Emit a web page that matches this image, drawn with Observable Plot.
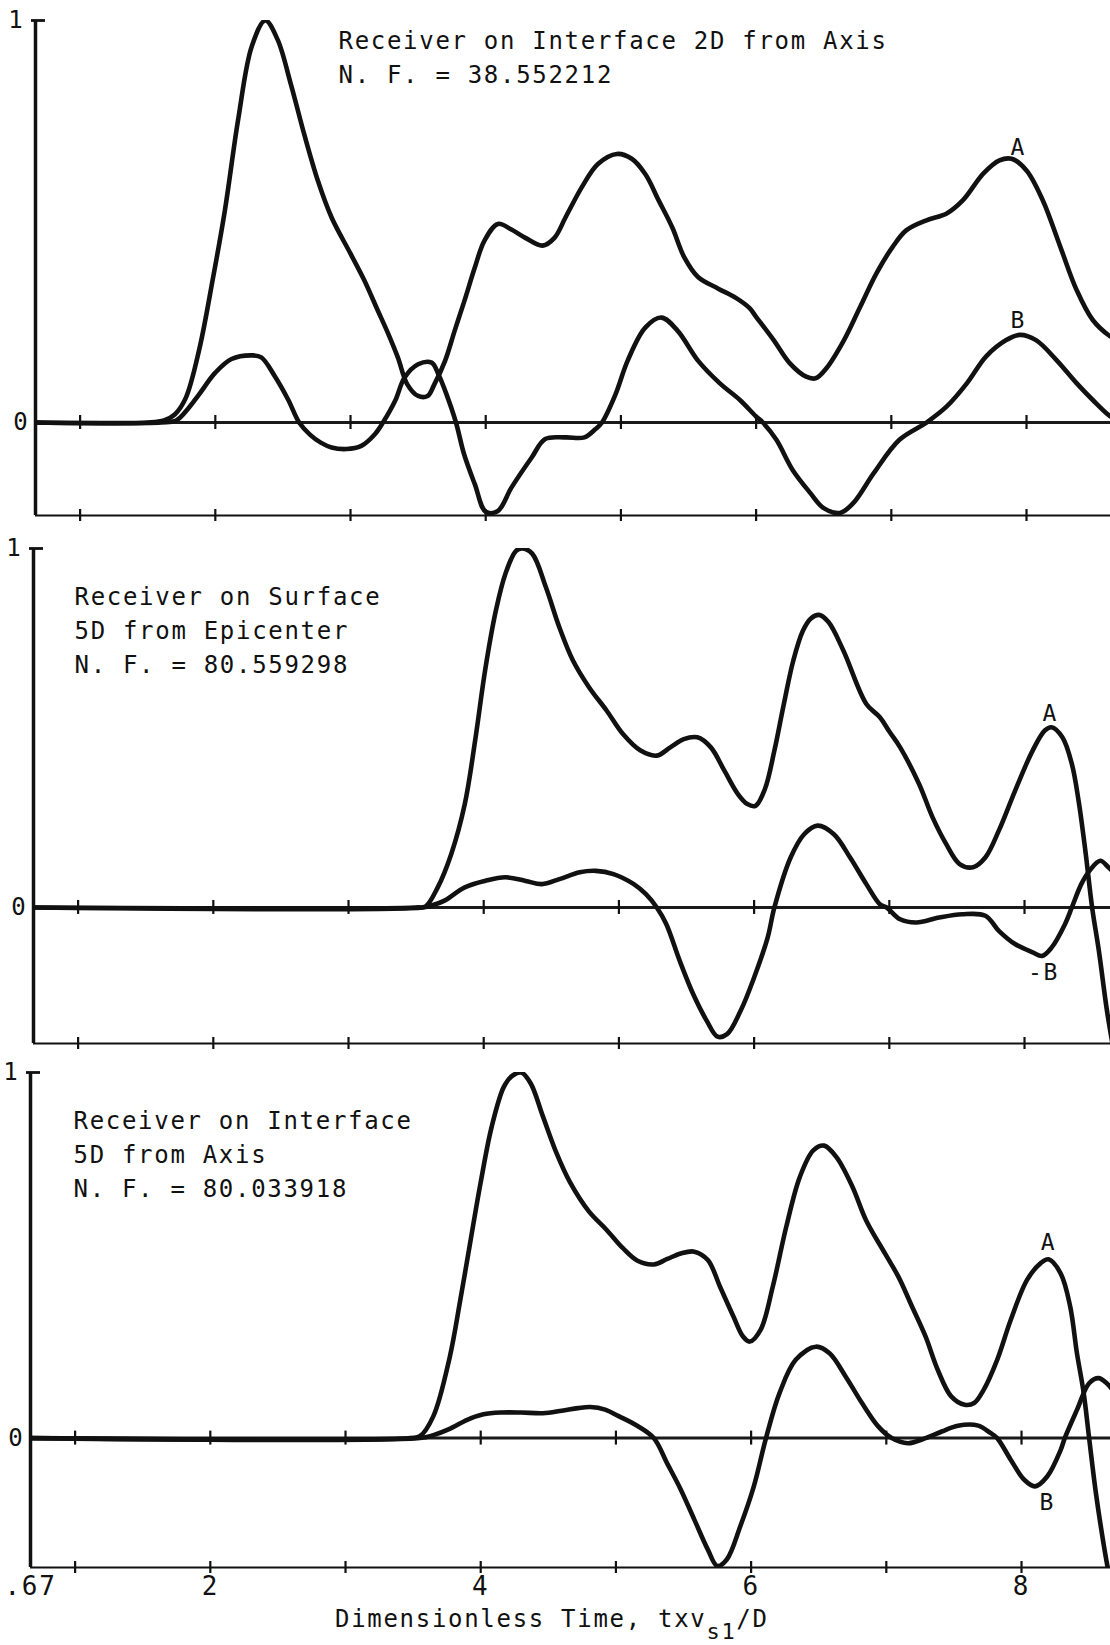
<!DOCTYPE html>
<html>
<head>
<meta charset="utf-8">
<script src="https://cdn.jsdelivr.net/npm/d3@7"></script>
<script src="https://cdn.jsdelivr.net/npm/@observablehq/plot@0.6"></script>
<style>
  html, body { margin: 0; padding: 0; background: #fff; }
  #chart { position: relative; width: 1110px; height: 1645px; overflow: hidden; background: #fff; }
  #chart svg { display: block; }
  #chart svg text { letter-spacing: 1.7px; }
  #xtitle {
    position: absolute; left: 335px; top: 1607px;
    font-family: "DejaVu Sans Mono", monospace; font-size: 24px; line-height: 24px;
    letter-spacing: 1.7px; white-space: nowrap; color: #111;
  }
  #xtitle .sub { position: relative; top: 12px; font-size: 22px; }
</style>
</head>
<body>
<div id="chart"></div>
<script>
// Dimensionless time ticks and labels
const timeTicks = [1, 2, 3, 4, 5, 6, 7, 8];
const timeLabels = [0.67, 2, 4, 6, 8];

// Panel 1: receiver on interface, 2D from axis  ([time, amplitude])
const ifaceNearA = [
  [0.67,0],[1.5,0],[1.62,0.005],[1.7,0.02],[1.78,0.06],[1.88,0.18],[1.98,0.354],[2.07,0.526],
  [2.17,0.756],[2.27,0.936],[2.37,1.0],[2.46,0.953],[2.56,0.84],[2.66,0.714],[2.76,0.6],[2.86,0.51],
  [3.0,0.42],[3.1,0.355],[3.2,0.28],[3.28,0.22],[3.35,0.162],[3.42,0.095],[3.5,0.066],[3.57,0.066],
  [3.62,0.095],[3.7,0.154],[3.77,0.228],[3.84,0.3],[3.92,0.386],[3.99,0.452],[4.09,0.494],[4.19,0.48],
  [4.29,0.46],[4.42,0.44],[4.51,0.46],[4.59,0.51],[4.71,0.585],[4.83,0.643],[4.97,0.668],[5.08,0.656],
  [5.18,0.618],[5.28,0.552],[5.38,0.485],[5.47,0.41],[5.57,0.362],[5.72,0.333],[5.85,0.31],[5.95,0.285],
  [6.0,0.263],[6.13,0.205],[6.25,0.147],[6.37,0.114],[6.44,0.11],[6.52,0.135],[6.65,0.205],[6.77,0.288],
  [6.89,0.371],[7.01,0.437],[7.11,0.478],[7.26,0.503],[7.41,0.52],[7.53,0.553],[7.68,0.619],[7.8,0.652],
  [7.89,0.656],[8.0,0.627],[8.12,0.553],[8.25,0.437],[8.37,0.33],[8.49,0.255],[8.62,0.214],[8.7,0.2]
];
const ifaceNearB = [
  [0.67,0],[1.6,0],[1.71,0.005],[1.8,0.035],[1.88,0.07],[2.0,0.124],[2.12,0.158],[2.27,0.167],
  [2.34,0.162],[2.44,0.115],[2.54,0.056],[2.62,0],[2.7,-0.03],[2.78,-0.05],[2.86,-0.062],[2.97,-0.066],
  [3.08,-0.058],[3.18,-0.029],[3.24,0],[3.33,0.054],[3.4,0.112],[3.5,0.145],[3.6,0.149],[3.65,0.12],
  [3.71,0.07],[3.78,0],[3.84,-0.079],[3.92,-0.154],[4.0,-0.222],[4.09,-0.22],[4.19,-0.162],[4.34,-0.087],
  [4.44,-0.041],[4.59,-0.037],[4.73,-0.037],[4.81,-0.017],[4.86,0],[4.96,0.07],[5.05,0.154],[5.18,0.236],
  [5.3,0.261],[5.42,0.228],[5.57,0.154],[5.73,0.098],[5.88,0.056],[6.0,0.015],[6.05,0],[6.15,-0.043],
  [6.27,-0.118],[6.4,-0.175],[6.5,-0.213],[6.62,-0.225],[6.72,-0.2],[6.87,-0.126],[7.06,-0.043],[7.26,0],
  [7.41,0.04],[7.56,0.098],[7.7,0.164],[7.85,0.205],[7.95,0.218],[8.07,0.205],[8.22,0.156],[8.37,0.098],
  [8.49,0.056],[8.62,0.015],[8.7,0]
];

// Panel 2: receiver on surface, 5D from epicenter
const surfaceA = [
  [0.67,0],[3.5,0],[3.57,0.003],[3.66,0.056],[3.76,0.149],[3.86,0.288],[3.94,0.474],[4.01,0.66],
  [4.09,0.827],[4.16,0.929],[4.24,0.994],[4.29,1.0],[4.36,0.985],[4.46,0.892],[4.56,0.78],[4.66,0.688],
  [4.78,0.613],[4.91,0.548],[5.03,0.483],[5.16,0.437],[5.28,0.423],[5.38,0.446],[5.48,0.469],[5.58,0.474],
  [5.68,0.446],[5.78,0.381],[5.88,0.316],[5.95,0.288],[6.01,0.283],[6.08,0.33],[6.15,0.437],[6.22,0.567],
  [6.29,0.688],[6.36,0.77],[6.42,0.805],[6.48,0.815],[6.55,0.795],[6.66,0.716],[6.83,0.567],[6.93,0.53],
  [7.0,0.49],[7.08,0.446],[7.22,0.344],[7.32,0.251],[7.42,0.177],[7.52,0.121],[7.62,0.112],[7.71,0.139],
  [7.81,0.214],[7.93,0.325],[8.06,0.437],[8.15,0.493],[8.2,0.502],[8.28,0.474],[8.35,0.4],[8.4,0.297],
  [8.45,0.158],[8.5,0],[8.55,-0.121],[8.61,-0.288],[8.66,-0.4]
];
const surfaceNegB = [
  [0.67,0],[3.55,0],[3.62,0.006],[3.71,0.019],[3.86,0.056],[4.01,0.074],[4.16,0.084],[4.31,0.074],
  [4.43,0.065],[4.56,0.079],[4.71,0.098],[4.83,0.102],[4.96,0.093],[5.11,0.065],[5.2,0.037],[5.28,0],
  [5.35,-0.046],[5.45,-0.149],[5.55,-0.242],[5.65,-0.316],[5.73,-0.36],[5.8,-0.353],[5.9,-0.288],[6.0,-0.195],
  [6.1,-0.084],[6.15,0],[6.27,0.139],[6.37,0.204],[6.47,0.228],[6.59,0.204],[6.71,0.139],[6.83,0.065],
  [6.93,0.009],[6.98,0],[7.08,-0.033],[7.2,-0.042],[7.37,-0.028],[7.54,-0.019],[7.71,-0.023],[7.81,-0.065],
  [7.93,-0.102],[8.06,-0.125],[8.13,-0.135],[8.2,-0.112],[8.3,-0.046],[8.35,0],[8.42,0.065],[8.48,0.102],
  [8.56,0.13],[8.62,0.112],[8.68,0.09]
];

// Panel 3: receiver on interface, 5D from axis
const ifaceFarA = [
  [0.67,0],[3.48,0],[3.55,0.005],[3.65,0.06],[3.77,0.22],[3.85,0.38],[3.92,0.53],[4.0,0.7],
  [4.08,0.85],[4.17,0.96],[4.23,0.99],[4.3,1.0],[4.37,0.97],[4.46,0.88],[4.56,0.78],[4.66,0.7],
  [4.8,0.62],[4.93,0.57],[5.05,0.52],[5.16,0.485],[5.28,0.475],[5.38,0.49],[5.48,0.505],[5.58,0.51],
  [5.68,0.487],[5.77,0.414],[5.87,0.332],[5.94,0.278],[5.99,0.264],[6.07,0.296],[6.16,0.414],[6.26,0.578],
  [6.36,0.714],[6.46,0.787],[6.54,0.8],[6.63,0.769],[6.75,0.687],[6.85,0.596],[6.99,0.505],[7.09,0.441],
  [7.19,0.36],[7.29,0.278],[7.38,0.187],[7.48,0.114],[7.58,0.091],[7.65,0.096],[7.72,0.132],[7.82,0.214],
  [7.92,0.323],[8.04,0.432],[8.14,0.478],[8.2,0.489],[8.29,0.45],[8.36,0.36],[8.41,0.232],[8.46,0.123],
  [8.5,0],[8.55,-0.15],[8.61,-0.296],[8.66,-0.4]
];
const ifaceFarB = [
  [0.67,0],[3.55,0],[3.65,0.008],[3.77,0.025],[3.9,0.05],[4.02,0.065],[4.15,0.07],[4.3,0.07],
  [4.46,0.068],[4.6,0.075],[4.72,0.082],[4.81,0.085],[4.92,0.078],[5.02,0.06],[5.16,0.033],[5.28,0],
  [5.38,-0.07],[5.48,-0.141],[5.58,-0.223],[5.68,-0.305],[5.75,-0.35],[5.82,-0.332],[5.92,-0.241],[6.02,-0.132],
  [6.11,0],[6.21,0.123],[6.33,0.214],[6.48,0.25],[6.58,0.232],[6.7,0.168],[6.82,0.096],[6.94,0.032],
  [7.04,0],[7.16,-0.014],[7.29,0],[7.41,0.018],[7.53,0.034],[7.68,0.034],[7.77,0.014],[7.82,0],
  [7.92,-0.059],[8.02,-0.114],[8.1,-0.132],[8.19,-0.105],[8.29,-0.032],[8.32,0],[8.41,0.077],[8.5,0.15],
  [8.57,0.164],[8.63,0.15],[8.7,0.12]
];

const W = 1110;
const PX_PER_T = 135.2;          // pixels per unit of dimensionless time
const T0 = 0.67;                 // time at the vertical axis
const ink = "#111";
const FONT = "DejaVu Sans Mono";

function panel(cfg) {
  const {h, mt, mb, ml, ymin, curveA, curveB, note, noteDx, noteDy, tags, labelled} = cfg;
  const t1 = T0 + (W - ml) / PX_PER_T;
  const pxY = (h - mt - mb) / (1 - ymin);
  const zt = 7 / pxY, bt = 6 / pxY;
  const marks = [
    // zero line with its ticks
    Plot.ruleY([0], {stroke: "#1a1a1a", strokeWidth: 3}),
    Plot.ruleX(timeTicks, {y1: -zt, y2: zt, stroke: ink, strokeWidth: 2.2}),
    // bottom axis line with ticks
    Plot.ruleY([ymin], {stroke: ink, strokeWidth: 2.2}),
    Plot.ruleX(timeTicks, {y1: ymin - bt, y2: ymin + bt, stroke: ink, strokeWidth: 2.2}),
    // vertical axis with the cap at 1
    Plot.ruleX([T0], {y1: ymin, y2: 1, stroke: ink, strokeWidth: 3.5}),
    Plot.ruleY([1], {x1: T0 - 4 / PX_PER_T, x2: T0 + 10 / PX_PER_T, stroke: ink, strokeWidth: 2.8}),
    Plot.text(["1"], {x: T0, y: 1, dx: -11, textAnchor: "end", lineAnchor: "middle",
      fontSize: 24, fontFamily: FONT, fill: ink}),
    Plot.text(["0"], {x: T0, y: 0, dx: -6, textAnchor: "end", lineAnchor: "middle",
      fontSize: 24, fontFamily: FONT, fill: ink}),
    // the two response traces
    Plot.line(curveA, {x: d => d[0], y: d => d[1], curve: "catmull-rom",
      stroke: ink, strokeWidth: 4.6, strokeLinejoin: "round", clip: true}),
    Plot.line(curveB, {x: d => d[0], y: d => d[1], curve: "catmull-rom",
      stroke: ink, strokeWidth: 4.6, strokeLinejoin: "round", clip: true}),
    // trace tags
    Plot.text(tags, {x: d => d[0], y: d => d[1], text: d => d[2], textAnchor: "middle",
      lineAnchor: "middle", fontSize: 23, fontFamily: FONT, fill: ink}),
    // receiver description
    Plot.text([note], {frameAnchor: "top-left", dx: noteDx, dy: noteDy, lineAnchor: "top",
      textAnchor: "start", fontSize: 24, lineHeight: 1.42, fontFamily: FONT, fill: ink})
  ];
  if (labelled) {
    marks.push(Plot.text(timeLabels, {x: d => d, y: ymin, dy: 9, lineAnchor: "top",
      text: d => d === 0.67 ? ".67" : String(d), textAnchor: "middle",
      fontSize: 26, fontFamily: FONT, fill: ink}));
  }
  return Plot.plot({
    width: W, height: h,
    marginTop: mt, marginBottom: mb, marginLeft: ml, marginRight: 0,
    x: {domain: [T0, t1], axis: null},
    y: {domain: [ymin, 1], axis: null},
    style: {background: "#fff", color: ink, fontFamily: FONT, overflow: "visible"},
    marks
  });
}

const chart = document.getElementById("chart");

chart.append(panel({
  h: 530, mt: 20, mb: 15, ml: 35, ymin: -0.2313,
  curveA: ifaceNearA, curveB: ifaceNearB,
  note: "Receiver on Interface 2D from Axis\nN. F. = 38.552212",
  noteDx: 303, noteDy: 4,
  tags: [[7.94, 0.684, "A"], [7.94, 0.254, "B"]]
}));

chart.append(panel({
  h: 520, mt: 18, mb: 7, ml: 33, ymin: -0.379,
  curveA: surfaceA, curveB: surfaceNegB,
  note: "Receiver on Surface\n5D from Epicenter\nN. F. = 80.559298",
  noteDx: 41, noteDy: 32.5,
  tags: [[8.19, 0.54, "A"], [8.14, -0.181, "-B"]]
}));

chart.append(panel({
  h: 552, mt: 22, mb: 35, ml: 30, ymin: -0.354,
  curveA: ifaceFarA, curveB: ifaceFarB,
  note: "Receiver on Interface\n5D from Axis\nN. F. = 80.033918",
  noteDx: 43, noteDy: 32,
  tags: [[8.2, 0.535, "A"], [8.19, -0.176, "B"]],
  labelled: true
}));

const title = document.createElement("div");
title.id = "xtitle";
title.innerHTML = 'Dimensionless Time, txv<span class="sub">s1</span>/D';
chart.append(title);
</script>
</body>
</html>
